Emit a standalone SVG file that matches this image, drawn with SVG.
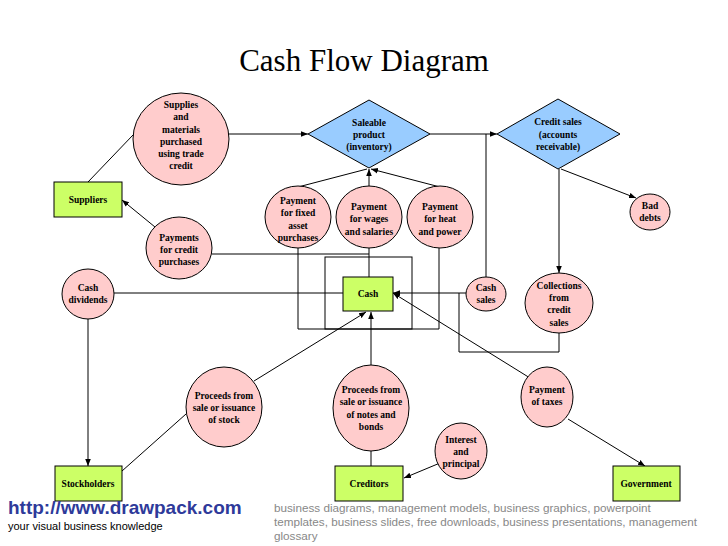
<svg xmlns="http://www.w3.org/2000/svg" width="728" height="546" viewBox="0 0 728 546">
<style>
.e{fill:#ffcccc;stroke:#000;stroke-width:1}
.b{fill:#ccff66;stroke:#000;stroke-width:1}
.d{fill:#99ccff;stroke:#000;stroke-width:1}
.t{font-weight:bold;font-size:9.5px;text-anchor:middle}
.c line,.c polyline,.c rect{stroke:#000;stroke-width:1;fill:none}
</style>
<defs><marker id="a" viewBox="0 0 10 10" refX="10" refY="5" markerWidth="7" markerHeight="7" orient="auto"><path d="M0,1L10,5L0,9z" fill="#000"/></marker></defs>
<rect width="728" height="546" fill="#fff"/>
<text x="364" y="71" font-family="Liberation Serif,serif" font-size="31" text-anchor="middle">Cash Flow Diagram</text>
<g class="c">
<line x1="228" y1="134" x2="308" y2="134" marker-end="url(#a)"/>
<line x1="133" y1="135" x2="88" y2="182"/>
<line x1="155" y1="227" x2="122" y2="200" marker-end="url(#a)"/>
<line x1="430" y1="134" x2="497" y2="134" marker-end="url(#a)"/>
<line x1="486" y1="134" x2="486" y2="277"/>
<line x1="559" y1="169" x2="559" y2="273" marker-end="url(#a)"/>
<line x1="561" y1="169" x2="636" y2="198" marker-end="url(#a)"/>
<line x1="298" y1="187" x2="367" y2="169"/>
<line x1="369" y1="186" x2="369" y2="169" marker-end="url(#a)"/>
<line x1="440" y1="187" x2="371" y2="169" marker-end="url(#a)"/>
<polyline points="298,248 298,329 439,329 439,248"/>
<rect x="325" y="257" width="87" height="72"/>
<polyline points="212,254 369,254"/>
<line x1="369" y1="248" x2="369" y2="277"/>
<line x1="114" y1="293" x2="343" y2="293"/>
<line x1="466" y1="293" x2="393" y2="293" marker-end="url(#a)"/>
<polyline points="559,333 559,352 459,352 459,293"/>
<line x1="88" y1="319" x2="88" y2="466" marker-end="url(#a)"/>
<line x1="254" y1="381" x2="366" y2="312" marker-end="url(#a)"/>
<line x1="371" y1="365" x2="371" y2="312" marker-end="url(#a)"/>
<line x1="530" y1="378" x2="393" y2="293" marker-end="url(#a)"/>
<line x1="122" y1="471" x2="186" y2="414"/>
<line x1="371" y1="451" x2="371" y2="466"/>
<line x1="440" y1="463" x2="404" y2="478" marker-end="url(#a)"/>
<line x1="568" y1="419" x2="645" y2="466" marker-end="url(#a)"/>
</g>
<g font-family="Liberation Serif,serif">
<g id="supplies"><ellipse class="e" cx="181" cy="139" rx="48" ry="46"/><text class="t" x="181" y="108">Supplies</text><text class="t" x="181" y="120">and</text><text class="t" x="181" y="133">materials</text><text class="t" x="181" y="145">purchased</text><text class="t" x="181" y="157">using trade</text><text class="t" x="181" y="169">credit</text></g>
<g id="saleable"><polygon class="d" points="308,134 369,100 430,134 369,168"/><text class="t" x="369" y="126">Saleable</text><text class="t" x="369" y="138">product</text><text class="t" x="369" y="150">(inventory)</text></g>
<g id="credit"><polygon class="d" points="497,134 558,99 620,134 558,169"/><text class="t" x="558" y="125">Credit sales</text><text class="t" x="558" y="138">(accounts</text><text class="t" x="558" y="150">receivable)</text></g>
<g id="suppliers"><rect class="b" x="54" y="182" width="68" height="35"/><text class="t" x="88" y="203">Suppliers</text></g>
<g id="fixed"><ellipse class="e" cx="298" cy="217" rx="33" ry="31"/><text class="t" x="298" y="204">Payment</text><text class="t" x="298" y="216">for fixed</text><text class="t" x="298" y="229">asset</text><text class="t" x="298" y="241">purchases</text></g>
<g id="wages"><ellipse class="e" cx="369" cy="217" rx="33" ry="31"/><text class="t" x="369" y="210">Payment</text><text class="t" x="369" y="222">for wages</text><text class="t" x="369" y="235">and salaries</text></g>
<g id="heat"><ellipse class="e" cx="440" cy="217" rx="33" ry="31"/><text class="t" x="440" y="210">Payment</text><text class="t" x="440" y="222">for heat</text><text class="t" x="440" y="235">and power</text></g>
<g id="baddebts"><ellipse class="e" cx="650" cy="212" rx="20" ry="18"/><text class="t" x="650" y="209">Bad</text><text class="t" x="650" y="221">debts</text></g>
<g id="paycredit"><ellipse class="e" cx="179" cy="248" rx="33" ry="31"/><text class="t" x="179" y="241">Payments</text><text class="t" x="179" y="253">for credit</text><text class="t" x="179" y="265">purchases</text></g>
<g id="dividends"><ellipse class="e" cx="88" cy="294" rx="26" ry="25"/><text class="t" x="88" y="291">Cash</text><text class="t" x="88" y="303">dividends</text></g>
<g id="cash"><rect class="b" x="343" y="277" width="50" height="34"/><text class="t" x="368" y="297">Cash</text></g>
<g id="cashsales"><ellipse class="e" cx="486" cy="294" rx="20" ry="17"/><text class="t" x="486" y="291">Cash</text><text class="t" x="486" y="303">sales</text></g>
<g id="collections"><ellipse class="e" cx="559" cy="303" rx="34" ry="30"/><text class="t" x="559" y="289">Collections</text><text class="t" x="559" y="301">from</text><text class="t" x="559" y="313">credit</text><text class="t" x="559" y="326">sales</text></g>
<g id="stock"><ellipse class="e" cx="224" cy="407" rx="38" ry="40"/><text class="t" x="224" y="399">Proceeds from</text><text class="t" x="224" y="411">sale or issuance</text><text class="t" x="224" y="423">of stock</text></g>
<g id="notes"><ellipse class="e" cx="371" cy="408" rx="38" ry="43"/><text class="t" x="371" y="393">Proceeds from</text><text class="t" x="371" y="405">sale or issuance</text><text class="t" x="371" y="418">of notes and</text><text class="t" x="371" y="430">bonds</text></g>
<g id="taxes"><ellipse class="e" cx="547" cy="397" rx="26" ry="30"/><text class="t" x="547" y="393">Payment</text><text class="t" x="547" y="405">of taxes</text></g>
<g id="interest"><ellipse class="e" cx="461" cy="451" rx="26" ry="28"/><text class="t" x="461" y="443">Interest</text><text class="t" x="461" y="455">and</text><text class="t" x="461" y="467">principal</text></g>
<g id="stockholders"><rect class="b" x="55" y="466" width="67" height="35"/><text class="t" x="88" y="487">Stockholders</text></g>
<g id="creditors"><rect class="b" x="335" y="466" width="68" height="35"/><text class="t" x="369" y="487">Creditors</text></g>
<g id="government"><rect class="b" x="613" y="466" width="67" height="35"/><text class="t" x="646" y="487">Government</text></g>
</g>
<text x="8" y="514" font-family="Liberation Sans,sans-serif" font-weight="bold" font-size="19" fill="#2e3a9a">http://www.drawpack.com</text>
<text x="8" y="530" font-family="Liberation Sans,sans-serif" font-size="11">your visual business knowledge</text>
<g font-family="Liberation Sans,sans-serif" font-size="11.7" fill="#888">
<text x="274" y="512">business diagrams, management models, business graphics, powerpoint</text>
<text x="274" y="526">templates, business slides, free downloads, business presentations, management</text>
<text x="274" y="540">glossary</text>
</g>
</svg>
